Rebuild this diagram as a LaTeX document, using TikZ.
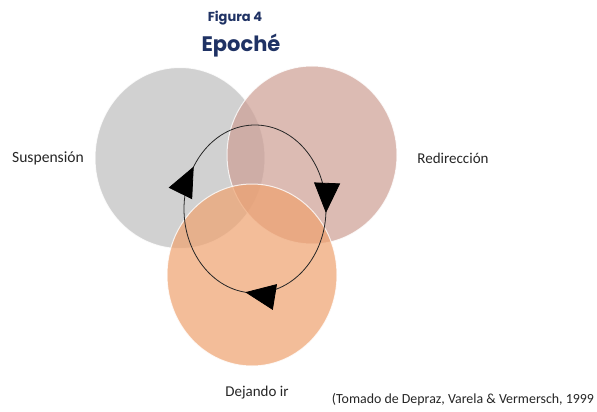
\documentclass[tikz,border=0pt]{standalone}
\usepackage{fontspec}
\setmainfont{Carlito}
\newfontfamily\titlefont{Poppins}
\usetikzlibrary{arrows.meta,decorations.markings,shapes.geometric,calc}
\definecolor{navy}{RGB}{31,50,100}
\definecolor{cgray}{RGB}{190,190,190}
\definecolor{cpink}{RGB}{206,159,148}
\definecolor{corange}{RGB}{239,162,111}
\tikzset{
  venn/.style={draw=white, line width=1pt, fill opacity=0.7, draw opacity=0.8, ellipse, inner sep=0pt, minimum width=170pt},
  lbl/.style={font=\fontsize{15}{18}\selectfont, text=black!85, inner sep=0pt},
  bigtip/.tip={Triangle[length=30pt,width=26pt]},
}
\begin{document}
\begin{tikzpicture}[x=1pt,y=-1pt]
\useasboundingbox (0,0) rectangle (597,412);
\fill[white] (0,0) rectangle (597,412);
\node[venn, fill=cgray, minimum height=181pt] (gray) at (180,158) {};
\node[venn, fill=cpink, minimum height=178pt] (pink) at (312,155) {};
\node[venn, fill=corange, minimum height=182pt] (orange) at (252,275) {};
\coordinate (ring) at (255,209);
\draw[black!85, line width=0.8pt, postaction={decorate},
  decoration={markings,
    mark=at position 0.258 with {\arrow[black]{bigtip}},
    mark=at position 0.52 with {\arrow[black]{bigtip}},
    mark=at position 0.84 with {\arrow[black]{bigtip}}}]
  ($(ring)+(0,-84)$) arc[start angle=-90, end angle=270, x radius=71, y radius=84];
\node[font=\titlefont\bfseries\fontsize{13}{15}\selectfont, text=navy] (fig) at (235,18) {Figura 4};
\node[font=\titlefont\bfseries\fontsize{21}{24}\selectfont, text=navy] (title) at (241,46) {Epoché};
\node[lbl, font=\fontsize{15.6}{18}\selectfont] (s) at (48,158) {Suspensión};
\node[lbl] (r) at (453,158) {Redirección};
\node[lbl] (d) at (257,393) {Dejando ir};
\node[lbl, font=\fontsize{13.9}{17}\selectfont] (src) at (463,400) {(Tomado de Depraz, Varela \& Vermersch, 1999};
\end{tikzpicture}
\end{document}
